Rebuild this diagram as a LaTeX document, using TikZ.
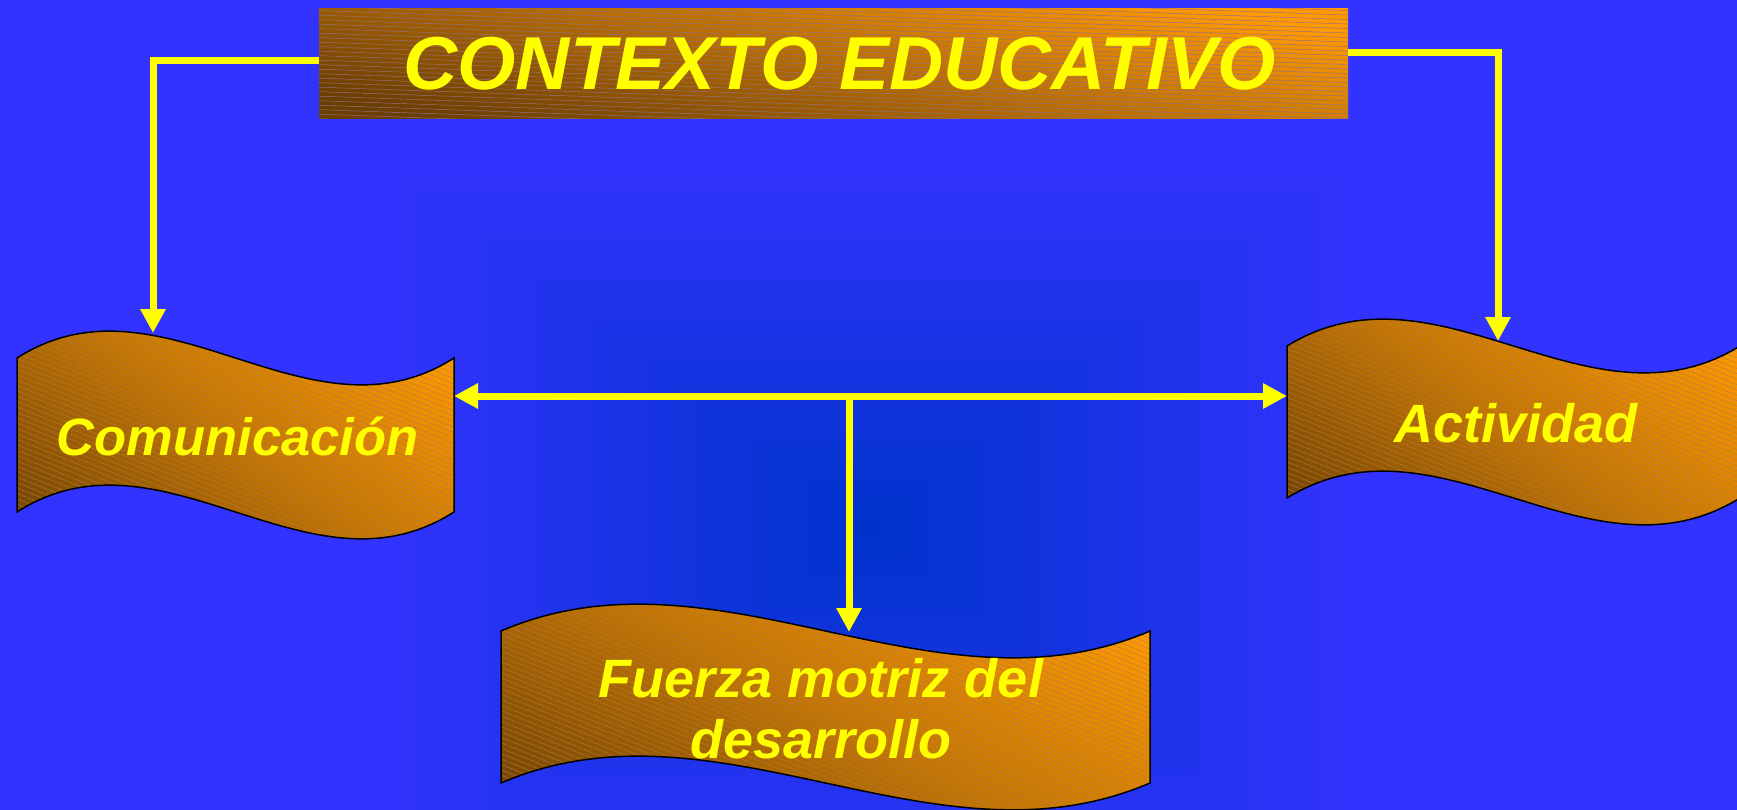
\documentclass[tikz,border=0pt]{standalone}
\usepackage{fontspec}
\setmainfont{Liberation Sans}
\usetikzlibrary{arrows.meta,patterns.meta,calc}
\definecolor{bgout}{RGB}{51,51,255}
\definecolor{bgin}{RGB}{0,51,204}
\definecolor{worange}{RGB}{255,153,0}
\definecolor{wmid}{RGB}{198,118,0}
\definecolor{wdark}{RGB}{120,70,0}
\definecolor{tdark}{RGB}{108,62,0}
\definecolor{tmid}{RGB}{182,108,0}
\definecolor{ylw}{RGB}{255,255,0}
\definecolor{hatch}{RGB}{165,125,95}
\definecolor{thatch}{RGB}{145,112,140}
\tikzset{
  wave/.style n args={5}{insert path={
    (#1,#2) .. controls ({#1+(#3-#1)/3},{#2-#5}) and ({#1+2*(#3-#1)/3},{#2+#5}) .. (#3,#2)
    -- (#3,#4) .. controls ({#1+2*(#3-#1)/3},{#4+#5}) and ({#1+(#3-#1)/3},{#4-#5}) .. (#1,#4) -- cycle}},
  wavebox/.style={preaction={bottom color=wdark, top color=worange, middle color=wmid, shading angle=#1},
    pattern={Lines[angle=-22,distance=5pt,line width=0.4pt]}, pattern color=hatch,
    postaction={draw=black, line width=1.5pt}},
  wavebox/.default=-37,
  titlebox/.style={minimum width=1029pt, minimum height=110pt, inner sep=0pt,
    bottom color=tdark, top color=worange, middle color=tmid, shading angle=-12,
    postaction={pattern={Lines[angle=-2,distance=4.5pt,line width=0.5pt]}, pattern color=thatch},
    text=ylw, font=\fontsize{75}{80}\selectfont\bfseries\itshape},
  lbl/.style={inner sep=0pt, text=ylw, font=\fontsize{54}{61}\selectfont\bfseries\itshape},
  conn/.style={draw=ylw, line width=7pt, -{Triangle[width=24pt,length=24pt]}},
  dconn/.style={draw=ylw, line width=7pt, {Triangle[width=24pt,length=24pt]}-{Triangle[width=24pt,length=24pt]}}
}
\begin{document}
\begin{tikzpicture}[x=1pt,y=-1pt]
\useasboundingbox (0,0) rectangle (1737,810);
\clip (0,0) rectangle (1737,810);
% background rectangular gradient
\fill[bgout] (0,0) rectangle (1737,810);
\foreach \i in {1,...,40} {
  \pgfmathsetmacro\t{1-\i/41}
  \pgfmathtruncatemacro\p{100*\i/40}
  \fill[bgin!\p!bgout] ({868-500*\t},{527-375*\t}) rectangle ({868+500*\t},{527+375*\t});
}
% wave shapes
\path[wavebox, wave={17}{358}{454}{512}{93}];
\path[wavebox, wave={1287}{346}{1740}{498}{93}];
\path[wavebox=-29, wave={501}{631}{1150}{783}{93}];
% title
\node[titlebox] (title) at (833.5,64) {\hspace*{12pt}CONTEXTO EDUCATIVO};
% connector coordinates
\coordinate (comTop) at (153,333);
\coordinate (actTop) at (1498,341);
\coordinate (comE) at (454,396);
\coordinate (actW) at (1287,396);
\coordinate (junc) at (849,396);
\coordinate (fuTop) at (849,632);
% connectors
\draw[conn] ([yshift=3pt]title.west) -| (comTop);
\draw[conn] ([yshift=11pt]title.east) -| (actTop);
\draw[dconn] (comE) -- (actW);
\draw[conn] (junc) -- (fuTop);
% labels
\node[lbl, font=\fontsize{52.5}{61}\selectfont\bfseries\itshape] (com) at (237.5,437) {Comunicación};
\node[lbl] (act) at (1516,423) {Actividad};
\node[lbl, align=center] (fu) at (821,709) {Fuerza motriz del\\desarrollo};
\end{tikzpicture}
\end{document}
